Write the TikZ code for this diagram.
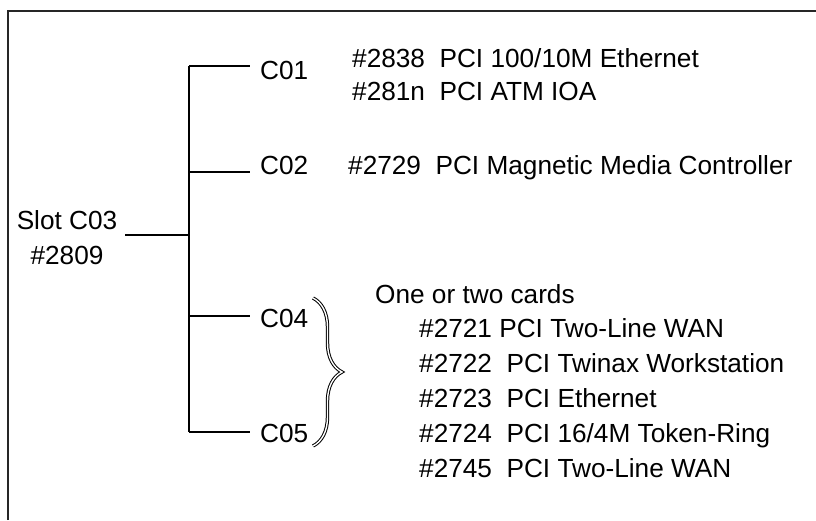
\documentclass[tikz,border=0pt]{standalone}
\usepackage{fontspec}
\setmainfont{Liberation Sans}
\usetikzlibrary{positioning, calc, decorations.pathreplacing}

\begin{document}
\begin{tikzpicture}[
  x=1pt, y=-1pt,
  every node/.style={font=\fontsize{26.2}{35}\selectfont, inner sep=0pt},
  slotlbl/.style={anchor=base west},
  cardlbl/.style={anchor=base west},
  wire/.style={line width=1.4pt, black},
  frame/.style={line width=2pt, black!85},
  cardbrace/.style={decorate, decoration={brace, amplitude=29pt},
    draw=black, double=white, double distance=1.4pt, line width=1pt}
]
  \useasboundingbox (0,0) rectangle (816,520);

  % Outer frame (top and left edges only)
  \draw[frame] (8,520) -- (8,11) -- (816,11);

  % Riser card
  \node[anchor=north, align=center] (slot) at (67,210) {Slot C03\\\#2809};

  % Trunk points
  \coordinate (t0) at (189,235);
  \coordinate (t1) at (189,66);
  \coordinate (t2) at (189,172);
  \coordinate (t4) at (189,316);
  \coordinate (t5) at (189,432);

  % Slots
  \node[slotlbl] (c01) at (260,79) {C01};
  \node[slotlbl] (c02) at (260,174) {C02};
  \node[slotlbl] (c04) at (260,327) {C04};
  \node[slotlbl] (c05) at (260,442) {C05};

  % Cards for C01 and C02
  \node[cardlbl] (eth) at (352,67) {\#2838\ \ PCI 100/10M Ethernet};
  \node[cardlbl] (atm) at (352,100) {\#281n\ \ PCI ATM IOA};
  \node[cardlbl] (mmc) at (348,174) {\#2729\ \ PCI Magnetic Media Controller};

  % Cards for C04 and C05
  \node[cardlbl] (choice) at (375,303) {One or two cards};
  \foreach \txt [count=\i from 0] in {{\#2721 PCI Two-Line WAN},
      {\#2722\ \ PCI Twinax Workstation}, {\#2723\ \ PCI Ethernet},
      {\#2724\ \ PCI 16/4M Token-Ring}, {\#2745\ \ PCI Two-Line WAN}}
    \node[cardlbl] (card\i) at (419,337+35*\i) {\txt};

  % Connectors
  \draw[wire] ([xshift=8pt]slot.east |- t0) -- (t0);
  \draw[wire] (t1) -- (t5);
  \draw[wire] (t1) -- ([xshift=-10pt]t1 -| c01.west);
  \draw[wire] (t2) -- ([xshift=-10pt]t2 -| c02.west);
  \draw[wire] (t4) -- ([xshift=-10pt]t4 -| c04.west);
  \draw[wire] (t5) -- ([xshift=-10pt]t5 -| c05.west);

  % Brace over C04/C05
  \draw[cardbrace] (313,298) -- (313,446);
\end{tikzpicture}
\end{document}
